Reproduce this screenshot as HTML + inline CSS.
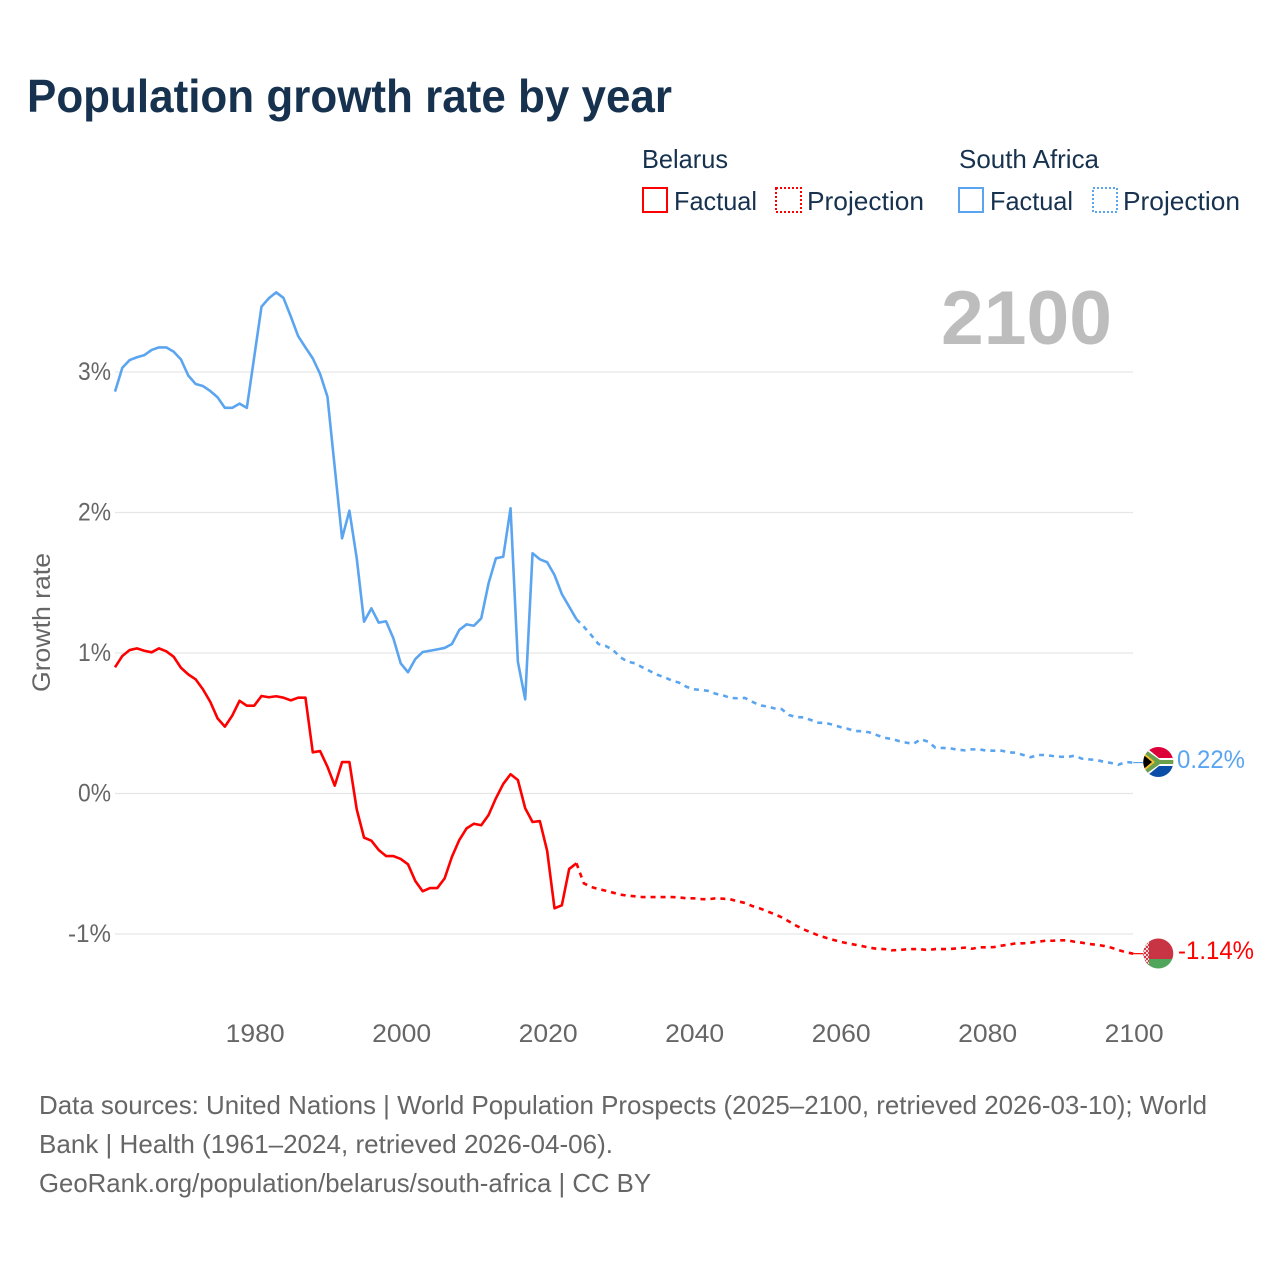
<!DOCTYPE html>
<html lang="en">
<head>
<meta charset="utf-8">
<title>Population growth rate by year</title>
<style>
html,body{margin:0;padding:0;background:#fff;width:1280px;height:1280px;overflow:hidden}
svg{display:block}
text{font-family:"Liberation Sans",sans-serif}
</style>
</head>
<body>
<svg id="chart" xmlns="http://www.w3.org/2000/svg" width="1280" height="1280" viewBox="0 0 1280 1280">
  <rect x="0" y="0" width="1280" height="1280" fill="#ffffff"/>
  <text x="27" y="112" font-size="46" font-weight="700" fill="#17324f" textLength="645" lengthAdjust="spacingAndGlyphs">Population growth rate by year</text>

  <g font-size="26" fill="#17324f">
    <text x="642" y="168" textLength="86" lengthAdjust="spacingAndGlyphs">Belarus</text>
    <text x="959" y="168" textLength="140" lengthAdjust="spacingAndGlyphs">South Africa</text>
    <rect x="643" y="188" width="24" height="24" fill="none" stroke="#ff0000" stroke-width="2"/>
    <text x="674" y="210" textLength="83" lengthAdjust="spacingAndGlyphs">Factual</text>
    <rect x="776" y="188" width="25" height="24" fill="none" stroke="#ff0000" stroke-width="2" stroke-dasharray="2,2"/>
    <text x="807" y="210" textLength="117" lengthAdjust="spacingAndGlyphs">Projection</text>
    <rect x="959" y="188" width="24" height="24" fill="none" stroke="#5ba5f0" stroke-width="2"/>
    <text x="990" y="210" textLength="83" lengthAdjust="spacingAndGlyphs">Factual</text>
    <rect x="1093" y="188" width="24" height="24" fill="none" stroke="#5ba5f0" stroke-width="2" stroke-dasharray="2,2"/>
    <text x="1123" y="210" textLength="117" lengthAdjust="spacingAndGlyphs">Projection</text>
  </g>

  <text x="941" y="344" font-size="76" font-weight="700" fill="#bdbdbd" textLength="171" lengthAdjust="spacingAndGlyphs">2100</text>

  <g id="grid"></g>
  <g id="yAxis"></g>
  <g id="xAxis"></g>
  <text transform="translate(50,622.5) rotate(-90)" text-anchor="middle" font-size="25" fill="#666666" textLength="139" lengthAdjust="spacingAndGlyphs">Growth rate</text>
  <g id="series"></g>

  <defs>
    <clipPath id="clipZa"><circle cx="1158.3" cy="762" r="15"/></clipPath>
    <clipPath id="clipBy"><circle cx="1158.3" cy="953.5" r="15"/></clipPath>
    <pattern id="byOrnament" width="4" height="4" patternUnits="userSpaceOnUse">
      <rect width="4" height="4" fill="#f2d8da"/>
      <rect x="0" y="0" width="2" height="2" fill="#cf3a48"/>
      <rect x="2" y="2" width="2" height="2" fill="#cf3a48"/>
    </pattern>
  </defs>

  <g id="flagZa" clip-path="url(#clipZa)">
    <rect x="1143" y="747" width="31" height="15" fill="#de0038"/>
    <rect x="1143" y="762" width="31" height="16" fill="#0a4ea8"/>
    <path d="M1143 745 L1159 758 L1175 758 L1175 766 L1159 766 L1143 779 Z" fill="#ffffff"/>
    <path d="M1143 748 L1160 760 L1175 760 L1175 764 L1160 764 L1143 776 Z" fill="#6ba04c"/>
    <path d="M1143 752 L1155 762 L1143 772 Z" fill="#f5c02e"/>
    <path d="M1143 754.5 L1152 762 L1143 769.5 Z" fill="#000000"/>
  </g>
  <g id="flagBy" clip-path="url(#clipBy)">
    <rect x="1143" y="938" width="31" height="21" fill="#c83443"/>
    <rect x="1143" y="959" width="31" height="10" fill="#4fa65a"/>
    <rect x="1143" y="938" width="6" height="31" fill="url(#byOrnament)"/>
  </g>

  <text id="endLabelZa" x="1177" y="768" font-size="25" fill="#5ba5f0" textLength="68" lengthAdjust="spacingAndGlyphs">0.22%</text>
  <text id="endLabelBy" x="1178" y="959" font-size="25" fill="#ff0000" textLength="76" lengthAdjust="spacingAndGlyphs">-1.14%</text>

  <g font-size="26" fill="#666666">
    <text x="39" y="1114" textLength="1168" lengthAdjust="spacingAndGlyphs">Data sources: United Nations | World Population Prospects (2025–2100, retrieved 2026-03-10); World</text>
    <text x="39" y="1153" textLength="574" lengthAdjust="spacingAndGlyphs">Bank | Health (1961–2024, retrieved 2026-04-06).</text>
    <text x="39" y="1192" textLength="612" lengthAdjust="spacingAndGlyphs">GeoRank.org/population/belarus/south-africa | CC BY</text>
  </g>
</svg>
<script>
const xTickYears = [1980, 2000, 2020, 2040, 2060, 2080, 2100];
const yTickValues = [3, 2, 1, 0, -1];
const firstFactualYear = 1961;
const firstProjectionYear = 2024;
const southAfricaFactual = [2.86,3.03,3.085,3.105,3.12,3.157,3.175,3.175,3.145,3.09,2.975,2.915,2.90,2.865,2.82,2.745,2.745,2.775,2.745,3.105,3.465,3.525,3.567,3.527,3.395,3.256,3.175,3.097,2.986,2.825,2.32,1.816,2.013,1.674,1.223,1.318,1.216,1.226,1.105,0.927,0.863,0.957,1.007,1.016,1.026,1.036,1.064,1.164,1.204,1.194,1.247,1.496,1.674,1.685,2.03,0.938,0.67,1.71,1.667,1.646,1.555,1.42,1.33,1.24];
const southAfricaProjection = [1.24,1.187,1.128,1.064,1.05,1.021,0.969,0.938,0.927,0.898,0.872,0.846,0.827,0.805,0.789,0.76,0.742,0.737,0.73,0.71,0.699,0.68,0.678,0.68,0.653,0.628,0.62,0.606,0.601,0.559,0.544,0.542,0.523,0.504,0.502,0.49,0.473,0.461,0.445,0.443,0.435,0.416,0.397,0.388,0.374,0.362,0.354,0.386,0.369,0.326,0.324,0.322,0.312,0.307,0.314,0.314,0.305,0.305,0.305,0.293,0.29,0.274,0.258,0.274,0.274,0.267,0.262,0.26,0.269,0.248,0.243,0.238,0.226,0.217,0.205,0.224,0.22];
const belarusFactual = [0.898,0.979,1.021,1.033,1.016,1.005,1.033,1.012,0.974,0.895,0.848,0.813,0.742,0.653,0.535,0.476,0.554,0.66,0.625,0.625,0.694,0.685,0.692,0.682,0.663,0.682,0.682,0.293,0.302,0.191,0.056,0.224,0.224,-0.113,-0.314,-0.336,-0.402,-0.445,-0.445,-0.466,-0.504,-0.623,-0.696,-0.673,-0.673,-0.604,-0.45,-0.331,-0.248,-0.215,-0.226,-0.153,-0.034,0.068,0.137,0.096,-0.105,-0.203,-0.196,-0.409,-0.817,-0.796,-0.537,-0.497];
const belarusProjection = [-0.497,-0.639,-0.665,-0.68,-0.692,-0.706,-0.72,-0.727,-0.732,-0.737,-0.737,-0.737,-0.737,-0.737,-0.739,-0.746,-0.746,-0.751,-0.753,-0.746,-0.749,-0.753,-0.767,-0.779,-0.801,-0.817,-0.838,-0.858,-0.881,-0.91,-0.941,-0.967,-0.988,-1.009,-1.026,-1.041,-1.055,-1.066,-1.076,-1.086,-1.097,-1.105,-1.107,-1.116,-1.114,-1.109,-1.107,-1.109,-1.114,-1.107,-1.107,-1.107,-1.102,-1.097,-1.105,-1.095,-1.095,-1.093,-1.083,-1.076,-1.066,-1.066,-1.062,-1.055,-1.048,-1.048,-1.045,-1.045,-1.055,-1.062,-1.071,-1.076,-1.085,-1.097,-1.114,-1.13,-1.14];

const SVG_NS = 'http://www.w3.org/2000/svg';
function xScale(year) { return 115 + (year - 1961) * 7.325; }
function yScale(value) { return 793.5 - value * 140.5; }
function linePath(values, startYear) {
  const pts = values.map(function (v, i) {
    return xScale(startYear + i).toFixed(2) + ',' + yScale(v).toFixed(2);
  });
  return 'M' + pts.join(' L');
}
function makeEl(tag, parent) {
  const el = document.createElementNS(SVG_NS, tag);
  parent.appendChild(el);
  return el;
}

const grid = document.getElementById('grid');
const yAxis = document.getElementById('yAxis');
const xAxis = document.getElementById('xAxis');
const series = document.getElementById('series');

yTickValues.forEach(function (v) {
  const line = makeEl('line', grid);
  
  
  line.setAttribute('x1', 115);
  line.setAttribute('x2', 1133);
  line.setAttribute('y1', yScale(v));
  line.setAttribute('y2', yScale(v));
  line.setAttribute('stroke', '#e6e6e6');
  line.setAttribute('stroke-width', 1.2);

  const label = makeEl('text', yAxis);
  
  
  label.setAttribute('x', 111);
  label.setAttribute('y', yScale(v) + 8);
  label.setAttribute('text-anchor', 'end');
  label.setAttribute('font-size', 25);
  label.setAttribute('fill', '#666666');
  label.setAttribute('textLength', v < 0 ? 43 : 33);
  label.setAttribute('lengthAdjust', 'spacingAndGlyphs');
  label.textContent = v + '%';
});

xTickYears.forEach(function (year) {
  const label = makeEl('text', xAxis);
  
  
  label.setAttribute('x', xScale(year) + 1);
  label.setAttribute('y', 1042);
  label.setAttribute('text-anchor', 'middle');
  label.setAttribute('font-size', 25);
  label.setAttribute('fill', '#666666');
  label.setAttribute('textLength', 59);
  label.setAttribute('lengthAdjust', 'spacingAndGlyphs');
  label.textContent = year;
});

function drawLine(values, startYear, color, dashed, name) {
  const path = makeEl('path', series);
  
  
  path.setAttribute('d', linePath(values, startYear));
  path.setAttribute('fill', 'none');
  path.setAttribute('stroke', color);
  path.setAttribute('stroke-width', 2.6);
  path.setAttribute('stroke-linejoin', 'round');
  if (dashed) path.setAttribute('stroke-dasharray', '5,5');
  return path;
}
drawLine(southAfricaProjection, firstProjectionYear, '#5ba5f0', true, 'south-africa-projection-line');
drawLine(southAfricaFactual, firstFactualYear, '#5ba5f0', false, 'south-africa-factual-line');
drawLine(belarusProjection, firstProjectionYear, '#ff0000', true, 'belarus-projection-line');
drawLine(belarusFactual, firstFactualYear, '#ff0000', false, 'belarus-factual-line');

function drawLeader(value, color, name) {
  const leader = makeEl('line', series);
  
  
  leader.setAttribute('x1', xScale(2100));
  leader.setAttribute('x2', 1144);
  leader.setAttribute('y1', yScale(value));
  leader.setAttribute('y2', yScale(value));
  leader.setAttribute('stroke', color);
  leader.setAttribute('stroke-width', 1.2);
}
drawLeader(southAfricaProjection[southAfricaProjection.length - 1], '#5ba5f0', 'south-africa-leader-line');
drawLeader(belarusProjection[belarusProjection.length - 1], '#ff0000', 'belarus-leader-line');
</script>
</body>
</html>
